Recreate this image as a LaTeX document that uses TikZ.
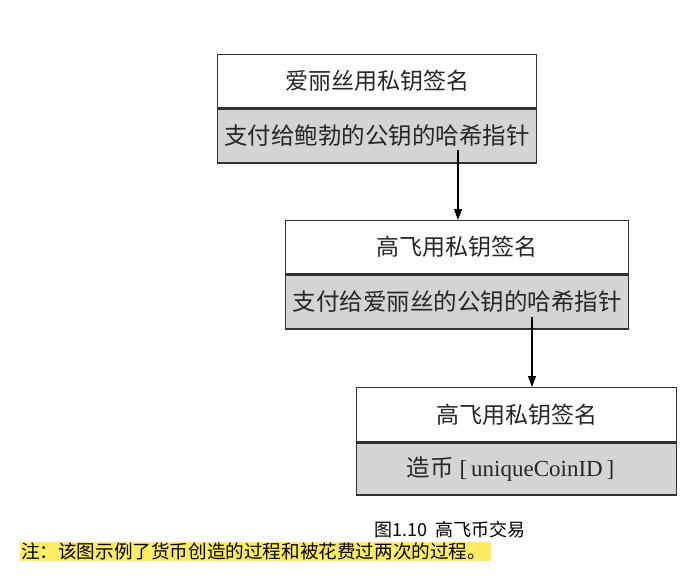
\documentclass[tikz,border=0pt]{standalone}
\usepackage{fontspec}
\setmainfont{Liberation Serif}
\newfontfamily\cjk{Noto Sans CJK SC}
\usetikzlibrary{arrows.meta}
\definecolor{boxgray}{RGB}{212,212,212}
\definecolor{edgegray}{RGB}{50,50,50}
\definecolor{hl}{RGB}{255,236,100}
\begin{document}
\begin{tikzpicture}[x=1pt,y=-1pt,
  topbox/.style={draw=edgegray, line width=1.3pt, fill=white, inner sep=0pt,
    minimum height=53pt, anchor=north west, text=black!85,
    font=\cjk\fontsize{23}{27}\selectfont},
  botbox/.style={draw=edgegray, line width=1.3pt, fill=boxgray, inner sep=0pt,
    minimum height=53pt, anchor=north west, text=black!85,
    font=\cjk\fontsize{23.5}{28}\selectfont},
  flow/.style={line width=1.2pt, draw=black, -{Triangle[length=11pt,width=8pt]}}]
\useasboundingbox (0,0) rectangle (697,581);
% box 1
\node[topbox, minimum width=319pt] (t1) at (217,54) {爱丽丝用私钥签名};
\node[botbox, minimum width=319pt, minimum height=54pt] (b1) at (t1.south west) {支付给鲍勃的公钥的哈希指针};
% box 2
\node[topbox, minimum width=343pt] (t2) at (285,220) {高飞用私钥签名};
\node[botbox, minimum width=343pt, minimum height=54pt] (b2) at (t2.south west) {支付给爱丽丝的公钥的哈希指针};
% box 3
\node[topbox, minimum width=320pt, minimum height=54pt] (t3) at (356,387) {高飞用私钥签名};
\node[botbox, minimum width=320pt, minimum height=52pt] (b3) at (t3.south west) {造币{\rmfamily\fontsize{23}{27}\selectfont\ [\,uniqueCoinID\,]}\hspace*{12pt}};
% arrows
\coordinate (s1) at (458,150);
\coordinate (s2) at (532,317);
\draw[flow] (s1) -- (s1 |- t2.north);
\draw[flow] (s2) -- (s2 |- t3.north);
% caption and note
\node[font=\cjk\fontsize{18}{21}\selectfont, inner sep=0pt] (cap) at (450,530) {图1.10\ \ 高飞币交易};
\fill[hl] (20,542) rectangle (491,561);
\node[font=\cjk\fontsize{18.6}{21}\selectfont, inner sep=0pt, anchor=west] (note) at (21,551.5) {注：该图示例了货币创造的过程和被花费过两次的过程。};
\end{tikzpicture}
\end{document}
